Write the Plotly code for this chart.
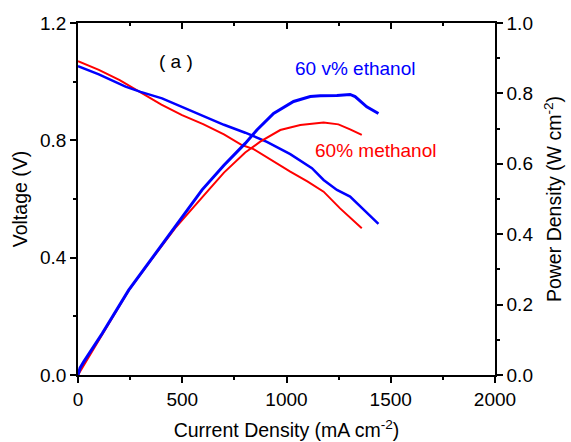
import plotly.graph_objects as go

# Voltage curves (left axis)
eth_v_x = [0, 20, 100, 228, 300, 403, 500, 600, 700, 802, 906, 1018, 1122, 1178, 1242, 1305, 1353, 1441]
eth_v_y = [1.053, 1.047, 1.025, 0.983, 0.965, 0.943, 0.913, 0.882, 0.853, 0.826, 0.795, 0.753, 0.705, 0.665, 0.631, 0.608, 0.574, 0.515]
met_v_x = [0, 100, 200, 307, 400, 499, 600, 700, 786, 842, 930, 1018, 1100, 1178, 1257, 1310, 1361]
met_v_y = [1.07, 1.04, 1.005, 0.960, 0.922, 0.886, 0.855, 0.82, 0.784, 0.770, 0.73, 0.693, 0.66, 0.625, 0.568, 0.535, 0.500]

# Power density curves (right axis)
eth_p_x = [0, 10, 28, 116, 243, 350, 467, 595, 700, 802, 858, 938, 1034, 1114, 1162, 1242, 1305, 1329, 1385, 1441]
eth_p_y = [0.0, 0.02, 0.038, 0.118, 0.241, 0.328, 0.421, 0.526, 0.596, 0.658, 0.696, 0.743, 0.777, 0.791, 0.793, 0.794, 0.797, 0.791, 0.762, 0.743]
met_p_x = [0, 20, 116, 243, 350, 467, 627, 700, 802, 874, 970, 1066, 1178, 1249, 1305, 1361]
met_p_y = [0.0, 0.02, 0.116, 0.240, 0.326, 0.418, 0.526, 0.575, 0.632, 0.663, 0.696, 0.710, 0.717, 0.712, 0.698, 0.682]

x_ticks = [0, 500, 1000, 1500, 2000]
v_ticks = [0.0, 0.4, 0.8, 1.2]
p_ticks = [0.0, 0.2, 0.4, 0.6, 0.8, 1.0]

BLUE = "#0000FF"
RED = "#FF0000"
FONT = "Liberation Sans, Arial, sans-serif"
FS = 19
FT = 19.5

fig = go.Figure()
fig.add_trace(go.Scatter(x=met_v_x, y=met_v_y, mode="lines", line=dict(color=RED, width=2), yaxis="y", showlegend=False))
fig.add_trace(go.Scatter(x=eth_v_x, y=eth_v_y, mode="lines", line=dict(color=BLUE, width=2.5), yaxis="y", showlegend=False))
fig.add_trace(go.Scatter(x=met_p_x, y=met_p_y, mode="lines", line=dict(color=RED, width=2), yaxis="y2", showlegend=False))
fig.add_trace(go.Scatter(x=eth_p_x, y=eth_p_y, mode="lines", line=dict(color=BLUE, width=3), yaxis="y2", showlegend=False))
# invisible trace to anchor the top axis
fig.add_trace(go.Scatter(x=[0], y=[0], xaxis="x2", yaxis="y", mode="markers", marker=dict(opacity=0), showlegend=False, hoverinfo="skip"))

axis_common = dict(showgrid=False, zeroline=False, showline=True, linecolor="black", linewidth=1.5, automargin=False,
                   tickcolor="black", tickwidth=1.5, tickfont=dict(size=FS, color="black", family=FONT))

fig.update_layout(
    width=571, height=442,
    margin=dict(l=78, r=76, t=23, b=67),
    paper_bgcolor="white", plot_bgcolor="white",
    font=dict(family=FONT, color="black"),
    xaxis=dict(range=[0, 2000], tickvals=x_ticks, ticks="outside", ticklen=6,
               minor=dict(dtick=250, ticks="outside", ticklen=3, tickcolor="black", tickwidth=1.5),
               title=dict(text="Current Density (mA cm<sup>-2</sup>)", font=dict(size=FT), standoff=15),
               **axis_common),
    xaxis2=dict(range=[0, 2000], overlaying="x", side="top", tickvals=x_ticks, ticks="inside", ticklen=6,
                showticklabels=False, minor=dict(dtick=250, ticks="inside", ticklen=3, tickcolor="black", tickwidth=1.5),
                **axis_common),
    yaxis=dict(range=[0, 1.2], tickvals=v_ticks, tickformat=".1f", ticks="outside", ticklen=6,
               minor=dict(dtick=0.2, ticks="outside", ticklen=3, tickcolor="black", tickwidth=1.5),
               title=dict(text="Voltage (V)", font=dict(size=FT), standoff=7),
               **axis_common),
    yaxis2=dict(range=[0, 1.0], overlaying="y", side="right", tickvals=p_ticks, tickformat=".1f", ticks="outside", ticklen=6,
                minor=dict(dtick=0.1, ticks="outside", ticklen=3, tickcolor="black", tickwidth=1.5),
                title=dict(text="Power Density (W cm<sup>-2</sup>)", font=dict(size=FT), standoff=15),
                **axis_common),
    annotations=[
        dict(text="( a )", x=470, y=1.07, xref="x", yref="y", showarrow=False, font=dict(size=19, color="black", family=FONT)),
        dict(text="60 v% ethanol", x=1330, y=1.044, xref="x", yref="y", showarrow=False, font=dict(size=19, color=BLUE, family=FONT)),
        dict(text="60% methanol", x=1425, y=0.767, xref="x", yref="y", showarrow=False, font=dict(size=19, color=RED, family=FONT)),
    ],
)

fig.write_html("out.html", post_script="document.body.style.margin='0';", config={"displayModeBar": False})
